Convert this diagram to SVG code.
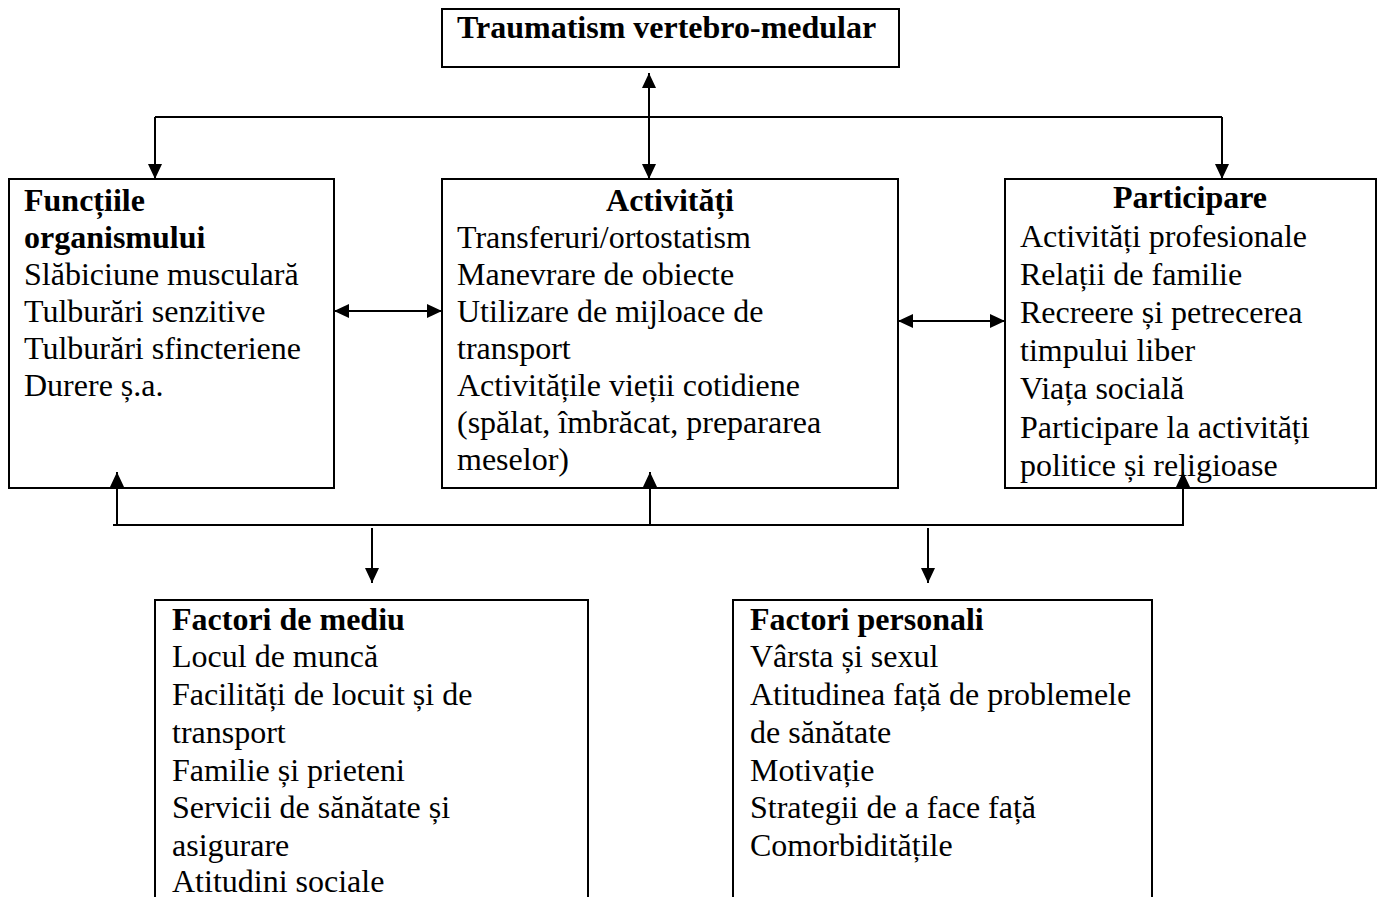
<svg xmlns="http://www.w3.org/2000/svg" width="1379" height="897" viewBox="0 0 1379 897">
<style>
.box{fill:#fff;stroke:#000;stroke-width:2}
text{font-family:"Liberation Serif","Times New Roman",serif;font-size:32px;fill:#000}
.b{font-weight:bold}
.c{text-anchor:middle}
.ln{stroke:#000;stroke-width:2;fill:none}
</style>
<defs>
<marker id="ah" viewBox="0 0 10 10" refX="10" refY="5" markerUnits="userSpaceOnUse" markerWidth="15" markerHeight="14" preserveAspectRatio="none" orient="auto-start-reverse">
<path d="M0,0 L10,5 L0,10 z" fill="#000"/>
</marker>
</defs>
<rect width="1379" height="897" fill="#fff"/>
<g id="n-trauma">
<rect class="box" x="442" y="9" width="457" height="58"/>
<text class="b" x="457" y="38">Traumatism vertebro-medular</text>
</g>
<g id="n-functii">
<rect class="box" x="9" y="179" width="325" height="309"/>
<text class="b" x="24" y="211">Funcțiile</text>
<text class="b" x="24" y="248">organismului</text>
<text x="24" y="285">Slăbiciune musculară</text>
<text x="24" y="322">Tulburări senzitive</text>
<text x="24" y="359">Tulburări sfincteriene</text>
<text x="24" y="396">Durere ș.a.</text>
</g>
<g id="n-activitati">
<rect class="box" x="442" y="179" width="456" height="309"/>
<text class="b c" x="670" y="211">Activități</text>
<text x="457" y="248">Transferuri/ortostatism</text>
<text x="457" y="285">Manevrare de obiecte</text>
<text x="457" y="322">Utilizare de mijloace de</text>
<text x="457" y="359">transport</text>
<text x="457" y="396">Activitățile vieții cotidiene</text>
<text x="457" y="433">(spălat, îmbrăcat, prepararea</text>
<text x="457" y="470">meselor)</text>
</g>
<g id="n-participare">
<rect class="box" x="1005" y="179" width="371" height="309"/>
<text class="b c" x="1190" y="208">Participare</text>
<text x="1020" y="247">Activități profesionale</text>
<text x="1020" y="285">Relații de familie</text>
<text x="1020" y="323">Recreere și petrecerea</text>
<text x="1020" y="361">timpului liber</text>
<text x="1020" y="399">Viața socială</text>
<text x="1020" y="438">Participare la activități</text>
<text x="1020" y="476">politice și religioase</text>
</g>
<g id="n-mediu">
<path class="box" d="M155,900 V600 H588 V900"/>
<text class="b" x="172" y="630">Factori de mediu</text>
<text x="172" y="667">Locul de muncă</text>
<text x="172" y="705">Facilități de locuit și de</text>
<text x="172" y="743">transport</text>
<text x="172" y="781">Familie și prieteni</text>
<text x="172" y="818">Servicii de sănătate și</text>
<text x="172" y="856">asigurare</text>
<text x="172" y="892">Atitudini sociale</text>
</g>
<g id="n-personali">
<path class="box" d="M733,900 V600 H1152 V900"/>
<text class="b" x="750" y="630">Factori personali</text>
<text x="750" y="667">Vârsta și sexul</text>
<text x="750" y="705">Atitudinea față de problemele</text>
<text x="750" y="743">de sănătate</text>
<text x="750" y="781">Motivație</text>
<text x="750" y="818">Strategii de a face față</text>
<text x="750" y="856">Comorbiditățile</text>
</g>
<g id="connectors">
<line class="ln" x1="155" y1="117" x2="1222" y2="117"/>
<line class="ln" x1="155" y1="117" x2="155" y2="179" marker-end="url(#ah)"/>
<line class="ln" x1="1222" y1="117" x2="1222" y2="179" marker-end="url(#ah)"/>
<line class="ln" x1="649" y1="73" x2="649" y2="179" marker-start="url(#ah)" marker-end="url(#ah)"/>
<line class="ln" x1="334" y1="311" x2="442" y2="311" marker-start="url(#ah)" marker-end="url(#ah)"/>
<line class="ln" x1="898" y1="321" x2="1005" y2="321" marker-start="url(#ah)" marker-end="url(#ah)"/>
<line class="ln" x1="113" y1="525" x2="1184" y2="525"/>
<line class="ln" x1="117" y1="525" x2="117" y2="472" marker-end="url(#ah)"/>
<line class="ln" x1="650" y1="525" x2="650" y2="472" marker-end="url(#ah)"/>
<line class="ln" x1="1183" y1="526" x2="1183" y2="472" marker-end="url(#ah)"/>
<line class="ln" x1="372" y1="528" x2="372" y2="583" marker-end="url(#ah)"/>
<line class="ln" x1="928" y1="528" x2="928" y2="583" marker-end="url(#ah)"/>
</g>
</svg>
